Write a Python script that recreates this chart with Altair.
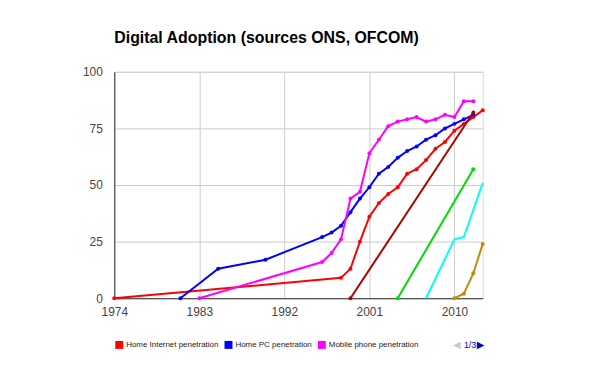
import altair as alt
import pandas as pd

# ---- data ----
internet_years = [1974, 1998, 1999, 2000, 2001, 2002, 2003, 2004, 2005, 2006, 2007, 2008, 2009, 2010, 2011, 2012, 2013]
internet_vals  = [0, 9, 13, 25, 36, 42, 46, 49, 55, 57, 61, 66, 69, 74, 77, 80, 83]

pc_years = [1981, 1985, 1990, 1996, 1997, 1998, 1999, 2000, 2001, 2002, 2003, 2004, 2005, 2006, 2007, 2008, 2009, 2010, 2011, 2012]
pc_vals  = [0, 13, 17, 27, 29, 32, 38, 44, 49, 55, 58, 62, 65, 67, 70, 72, 75, 77, 79, 81]

mobile_years = [1983, 1996, 1997, 1998, 1999, 2000, 2001, 2002, 2003, 2004, 2005, 2006, 2007, 2008, 2009, 2010, 2011, 2012]
mobile_vals  = [0, 16, 20, 26, 44, 47, 64, 70, 76, 78, 79, 80, 78, 79, 81, 80, 87, 87]

broadband_years = [1999, 2012]
broadband_vals  = [0, 82]

wireless_years = [2004, 2012]
wireless_vals  = [0, 57]

smartphone_years = [2007, 2010, 2011, 2013]
smartphone_vals  = [0, 26, 27, 51]

tablet_years = [2010, 2011, 2012, 2013]
tablet_vals  = [0, 2, 11, 24]

series_names = [
    "Home Internet penetration",
    "Home PC penetration",
    "Mobile phone penetration",
    "Home broadband penetration",
    "Home wireless network",
    "Smartphone penetration",
    "Tablet penetration",
]
series_colors = ["#ff0000", "#0000ff", "#ff00ff", "#b00000", "#00dd00", "#00ffff", "#c68a0c"]
series_data = [
    (internet_years, internet_vals),
    (pc_years, pc_vals),
    (mobile_years, mobile_vals),
    (broadband_years, broadband_vals),
    (wireless_years, wireless_vals),
    (smartphone_years, smartphone_vals),
    (tablet_years, tablet_vals),
]
x_ticks = [1974, 1983, 1992, 2001, 2010]
y_ticks = [0, 25, 50, 75, 100]

rows = []
for i, (name, (ys, vs)) in enumerate(zip(series_names, series_data)):
    for y, v in zip(ys, vs):
        rows.append({"series": name, "year": y, "value": v, "order": i})
df = pd.DataFrame(rows)

FONT = "Liberation Sans"

color = alt.Color(
    "series:N",
    scale=alt.Scale(domain=series_names, range=series_colors),
    legend=alt.Legend(
        values=series_names[:3],
        orient="none",
        legendX=1,
        legendY=271,
        direction="horizontal",
        title=None,
        symbolType="square",
        symbolSize=64,
        symbolStrokeWidth=0,
        labelFont=FONT,
        labelFontSize=8,
        labelColor="#222222",
        labelOffset=3,
        columnPadding=6,
    ),
)

x = alt.X(
    "year:Q",
    scale=alt.Scale(domain=[1974, 2013], nice=False, zero=False),
    axis=alt.Axis(
        values=x_ticks, format="d", title=None, grid=True, gridColor="#cccccc",
        domainColor="#333333", ticks=False, labelPadding=8, labelFont=FONT,
        labelFontSize=12, labelColor="#444444", labelFlush=False,
    ),
)
y = alt.Y(
    "value:Q",
    scale=alt.Scale(domain=[0, 100], nice=False),
    axis=alt.Axis(
        values=y_ticks, title=None, grid=True, gridColor="#cccccc",
        domainColor="#333333", ticks=False, labelPadding=12, labelFont=FONT,
        labelFontSize=12, labelColor="#444444",
    ),
)

base = alt.Chart(df)
lines = base.mark_line(strokeWidth=2, clip=False).encode(
    x=x, y=y, color=color, detail="series:N", order="year:Q"
)
points = base.transform_filter(
    alt.datum.series != "Smartphone penetration"
).mark_point(filled=True, size=16, opacity=1).encode(x=x, y=y, color=color)

pager_prev = alt.Chart(pd.DataFrame({"t": ["\u25c0"]})).mark_text(
    font="DejaVu Sans", fontSize=10, color="#cccccc", align="left", baseline="middle"
).encode(text="t:N", x=alt.value(341), y=alt.value(275))
pager_text = alt.Chart(pd.DataFrame({"t": ["1/3"]})).mark_text(
    font=FONT, fontSize=9, color="#0000cc", align="left", baseline="middle"
).encode(text="t:N", x=alt.value(352), y=alt.value(275))
pager_next = alt.Chart(pd.DataFrame({"t": ["\u25b6"]})).mark_text(
    font="DejaVu Sans", fontSize=10, color="#0000cc", align="left", baseline="middle"
).encode(text="t:N", x=alt.value(365), y=alt.value(275))

chart = alt.layer(lines, points, pager_prev, pager_text, pager_next).properties(
    width=371,
    height=228,
    autosize=alt.AutoSizeParams(type="none"),
    padding={"left": 107, "top": 63, "right": 110, "bottom": 64},
    title=alt.TitleParams(
        "Digital Adoption (sources ONS, OFCOM)",
        anchor="start", frame="group", font=FONT, fontSize=16,
        fontWeight="bold", color="#000000", offset=20,
    ),
).configure_view(stroke=None).configure(background="white")

chart.save("out.html", embed_options={"renderer": "svg", "actions": False})
